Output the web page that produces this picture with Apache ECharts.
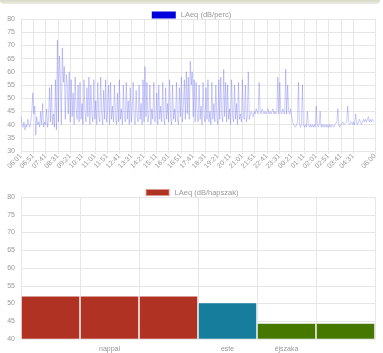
<!DOCTYPE html>
<html>
<head>
<meta charset="utf-8">
<script src="https://cdn.jsdelivr.net/npm/echarts@6/dist/echarts.min.js"></script>
<style>
html, body { margin: 0; padding: 0; background: #fff; }
#topbar { position: absolute; left: 0; top: 0; width: 380px; height: 4px;
  background: linear-gradient(#d9d9c8, #ecece0); border-radius: 0 0 4px 4px; }
#chart { width: 383px; height: 353px; }
</style>
</head>
<body>
<div id="topbar"></div>
<div id="chart"></div>
<script>
    // LAeq per minute, sampled every 4 minutes starting 06:01
    const minuteStep = 4;
    const perMinute = [
        43,40,39,41,38,40,39,42,40,39,
        41,45,52,44,47,36,43,40,41,39,
        45,40,48,39,41,40,46,39,42,54,
        41,55,40,44,39,57,38,72,41,66,
        58,40,69,56,62,42,59,55,44,60,
        41,57,43,52,40,58,46,42,55,41,
        56,42,48,40,57,45,41,54,43,58,
        40,55,44,41,57,42,49,40,56,43,
        41,58,44,40,53,42,57,41,45,55,
        40,56,42,47,41,55,43,40,52,41,
        57,42,46,40,55,43,41,56,42,49,
        40,54,41,45,56,42,40,53,43,41,
        55,42,48,40,57,41,62,43,56,41,
        44,55,40,46,42,56,41,43,52,40,
        55,42,47,41,56,43,40,54,42,48,
        41,57,43,40,55,42,46,41,56,42,
        40,54,43,58,41,47,57,42,60,44,
        58,42,64,55,60,43,57,41,56,44,
        41,55,42,47,40,56,43,41,54,42,
        57,41,45,40,56,42,48,41,55,43,
        40,57,42,58,44,41,61,43,56,41,
        55,42,46,40,57,43,41,55,42,48,
        40,56,42,44,41,57,43,42,55,41,
        43,60,42,44,45,44,43,45,44,46,
        45,44,56,45,44,46,45,44,45,44,
        45,46,44,45,44,45,46,44,45,44,
        45,58,44,56,45,44,46,45,44,61,
        44,55,45,44,46,43,41,40,40,39,
        40,41,56,40,39,40,55,40,39,40,
        39,45,40,39,40,39,40,39,40,39,
        47,40,39,40,45,39,40,39,40,39,
        40,39,40,39,40,39,40,40,39,40,
        40,41,46,40,39,40,40,41,40,40,
        40,41,47,41,40,40,41,40,41,40,
        44,41,40,41,42,41,40,41,42,41,
        42,41,42,43,41,42,41,42,42,41
    ];

    // one label per minute, 06:01 .. 06:00
    const minuteLabels = [];
    for (let i = 0; i < 1440; i++) {
        const m = (6 * 60 + 1 + i) % 1440;
        minuteLabels.push(String(Math.floor(m / 60)).padStart(2, '0') + ':' + String(m % 60).padStart(2, '0'));
    }

    const periodLabels = ['', 'nappal', '', 'este', 'éjszaka', ''];
    const periodValues = [52.2, 52.2, 52.2, 50.3, 44.5, 44.5];
    const periodColors = ['#b03222', '#b03222', '#b03222', '#167e9c', '#467800', '#467800'];

    const showMinute = (idx) => (idx % 50 === 0 && idx <= 1350) || idx === 1439;
    const grey = '#999';
    const gridColor = '#e6e6e6';
    const font = 'Liberation Sans';

    const chart = echarts.init(document.getElementById('chart'));
    const option = {
        animation: false,
        textStyle: { fontFamily: font },
        legend: [
            {
                top: 6, left: 'center',
                itemWidth: 24, itemHeight: 7, itemGap: 4,
                textStyle: { color: grey, fontSize: 7.5, fontFamily: font },
                data: [{ name: 'LAeq (dB/perc)', icon: 'rect', itemStyle: { color: '#0000dd' } }]
            },
            {
                top: 183, left: 'center',
                itemWidth: 24, itemHeight: 7, itemGap: 4,
                textStyle: { color: grey, fontSize: 7.5, fontFamily: font },
                data: [{ name: 'LAeq (dB/hapszak)', icon: 'rect', itemStyle: { color: '#b03222' } }]
            }
        ],
        grid: [
            { left: 21, right: 8, top: 19, height: 132 },
            { left: 21, right: 8, top: 197, height: 144 }
        ],
        xAxis: [
            {
                type: 'category', gridIndex: 0, data: minuteLabels, boundaryGap: false,
                axisLine: { lineStyle: { color: gridColor } },
                axisTick: { show: true, length: 3, interval: (i) => showMinute(i), lineStyle: { color: gridColor } },
                axisLabel: { interval: (i) => showMinute(i), rotate: 45, color: grey, fontSize: 7, margin: 4 },
                splitLine: { show: true, interval: (i) => showMinute(i), lineStyle: { color: gridColor } }
            },
            {
                type: 'category', gridIndex: 1, data: periodLabels,
                axisLine: { lineStyle: { color: gridColor } },
                axisTick: { show: false },
                axisLabel: { interval: 0, color: grey, fontSize: 7, margin: 7 },
                splitLine: { show: true, interval: 0, lineStyle: { color: gridColor } }
            }
        ],
        yAxis: [
            {
                type: 'value', gridIndex: 0, min: 30, max: 80, interval: 5,
                axisLine: { show: true, lineStyle: { color: gridColor } },
                axisLabel: { color: grey, fontSize: 7, margin: 6 },
                splitLine: { lineStyle: { color: gridColor } }
            },
            {
                type: 'value', gridIndex: 1, min: 40, max: 80, interval: 5,
                axisLine: { show: true, lineStyle: { color: gridColor } },
                axisLabel: { color: grey, fontSize: 7, margin: 6 },
                splitLine: { lineStyle: { color: gridColor } }
            }
        ],
        series: [
            {
                name: 'LAeq (dB/perc)', type: 'line', xAxisIndex: 0, yAxisIndex: 0,
                showSymbol: false, symbol: 'none',
                lineStyle: { color: 'rgba(70,70,240,0.27)', width: 1 },
                itemStyle: { color: '#0000dd' },
                data: perMinute.map((v, k) => [k * minuteStep, v])
            },
            {
                name: 'LAeq (dB/hapszak)', type: 'bar', xAxisIndex: 1, yAxisIndex: 1,
                barCategoryGap: '0%',
                itemStyle: { color: '#b03222', borderColor: 'rgba(255,255,255,0.5)', borderWidth: 1 },
                data: periodValues.map((v, i) => ({ value: v, itemStyle: { color: periodColors[i] } }))
            }
        ]
    };
    chart.setOption(option);
</script>
</body>
</html>
